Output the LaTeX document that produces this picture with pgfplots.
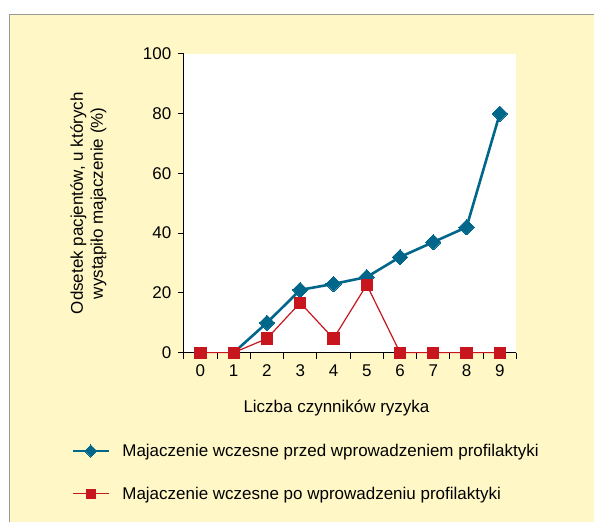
\documentclass[border=0pt]{standalone}
\usepackage{fontspec}
\setmainfont{Liberation Sans}
\usepackage{pgfplots}
\pgfplotsset{compat=1.18}
\definecolor{bgyellow}{HTML}{FFF8C6}
\definecolor{myblue}{HTML}{00668A}
\definecolor{myred}{HTML}{C8161E}
\begin{document}
\begin{tikzpicture}[x=1pt,y=1pt]
\fill[white] (0,0) rectangle (595,523);
\fill[bgyellow] (9,0) rectangle (595,509);
\draw[black!40, line width=1.3pt] (9.6,0) -- (9.6,508.4) -- (595,508.4);
\begin{axis}[
  at={(184pt,170pt)}, anchor=south west,
  scale only axis, width=333pt, height=299pt,
  xmin=-0.5, xmax=9.5, ymin=0, ymax=100,
  axis x line*=bottom, axis y line*=left,
  axis line style={line width=1.2pt,-},
  axis background/.style={fill=white},
  tick align=outside, major tick length=6pt,
  tick style={black, line width=1pt},
  xtick={-0.5,0.5,...,9.5},
  xticklabels={0,1,2,3,4,5,6,7,8,9,{}},
  xticklabel style={xshift=16.65pt, yshift=-3pt},
  yticklabel style={xshift=-3pt},
  ytick={0,20,...,100},
  font=\fontsize{17}{20}\selectfont,
  /pgf/number format/assume math mode=true,
  xlabel={Liczba czynników ryzyka},
  every axis x label/.style={at={(0.459,-0.187)}, anchor=center},
  ylabel={Odsetek pacjentów, u których\\wystąpiło majaczenie (\%)},
  every axis y label/.style={at={(-0.287,0.5)}, rotate=90, anchor=center, align=center},
  clip=false,
  legend style={at={(-0.345,-0.292)}, anchor=north west, draw=none, fill=none,
    cells={anchor=west}, row sep=25pt, column sep=11pt, font=\fontsize{17}{20}\selectfont},
  legend image code/.code={
    \draw[#1,line width=1.2pt,mark indices={2},every mark/.append style={scale=0.8}] plot coordinates {(0pt,0pt) (18pt,0pt) (36pt,0pt)};
  },
]
\addplot[myblue, line width=2.6pt, mark=square*, mark size=5.4pt, mark indices={2,3,4,5,6,7,8,9},
  mark options={rotate=45, line width=0pt, fill=myblue}]
  coordinates {(1,0) (2,10) (3,21) (4,23) (5,25.3) (6,32) (7,37) (8,42) (9,80)};
\addlegendentry{Majaczenie wczesne przed wprowadzeniem profilaktyki}
\addplot[myred, line width=1.2pt, mark=square*, mark size=5.6pt,
  mark options={line width=0pt, fill=myred}]
  coordinates {(0,0) (1,0) (2,4.7) (3,16.7) (4,4.7) (5,22.7) (6,0) (7,0) (8,0) (9,0)};
\addlegendentry{Majaczenie wczesne po wprowadzeniu profilaktyki}
\end{axis}
\end{tikzpicture}
\end{document}
